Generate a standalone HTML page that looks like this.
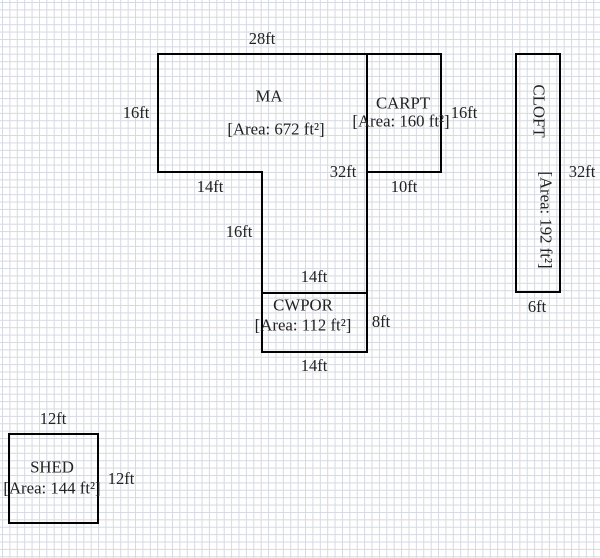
<!DOCTYPE html>
<html><head><style>
html,body{margin:0;padding:0}
body{width:600px;height:558px;position:relative;overflow:hidden;background-color:#fff;
background-image:linear-gradient(to right,#d6d9e3 1px,transparent 1px),linear-gradient(to bottom,#d6d9e3 1px,transparent 1px);
background-size:7.4px 7.4px;background-position:2px 2px;font-family:"Liberation Serif",serif;color:#222}
.t{position:absolute;font-size:16.5px;white-space:nowrap;transform:translate(-50%,-50%);line-height:1}
.l{font-size:16.8px}
svg{position:absolute;left:0;top:0}
</style></head><body>
<svg width="600" height="558">
<g fill="none" stroke="#000" stroke-width="2">
<path d="M158,54 H441 V172 H367 V352 H262 V172 H158 Z"/>
<path d="M367,54 V172"/>
<path d="M262,293 H367"/>
<rect x="516" y="54" width="44" height="238"/>
<rect x="9" y="434" width="89" height="89"/>
</g>
</svg>
<div class="t" style="left:262px;top:39px">28ft</div>
<div class="t" style="left:136px;top:113px">16ft</div>
<div class="t l" style="left:269px;top:97px">MA</div>
<div class="t l" style="left:276px;top:130px">[Area: 672 ft²]</div>
<div class="t l" style="left:403px;top:104px">CARPT</div>
<div class="t l" style="left:401px;top:122px">[Area: 160 ft²]</div>
<div class="t" style="left:464px;top:113px">16ft</div>
<div class="t" style="left:343px;top:172px">32ft</div>
<div class="t" style="left:210px;top:187px">14ft</div>
<div class="t" style="left:404px;top:187px">10ft</div>
<div class="t" style="left:239px;top:232px">16ft</div>
<div class="t" style="left:314px;top:277px">14ft</div>
<div class="t l" style="left:303px;top:306px">CWPOR</div>
<div class="t l" style="left:303px;top:326px">[Area: 112 ft²]</div>
<div class="t" style="left:381px;top:322px">8ft</div>
<div class="t" style="left:314px;top:366px">14ft</div>
<div class="t l" style="left:538px;top:111px;transform:translate(-50%,-50%) rotate(90deg)">CLOFT</div>
<div class="t l" style="left:545px;top:220px;transform:translate(-50%,-50%) rotate(90deg)">[Area: 192 ft²]</div>
<div class="t" style="left:582px;top:172px">32ft</div>
<div class="t" style="left:537px;top:307px">6ft</div>
<div class="t" style="left:53px;top:419px">12ft</div>
<div class="t l" style="left:52px;top:468px">SHED</div>
<div class="t l" style="left:52px;top:489px">[Area: 144 ft²]</div>
<div class="t" style="left:121px;top:479px">12ft</div>
</body></html>
